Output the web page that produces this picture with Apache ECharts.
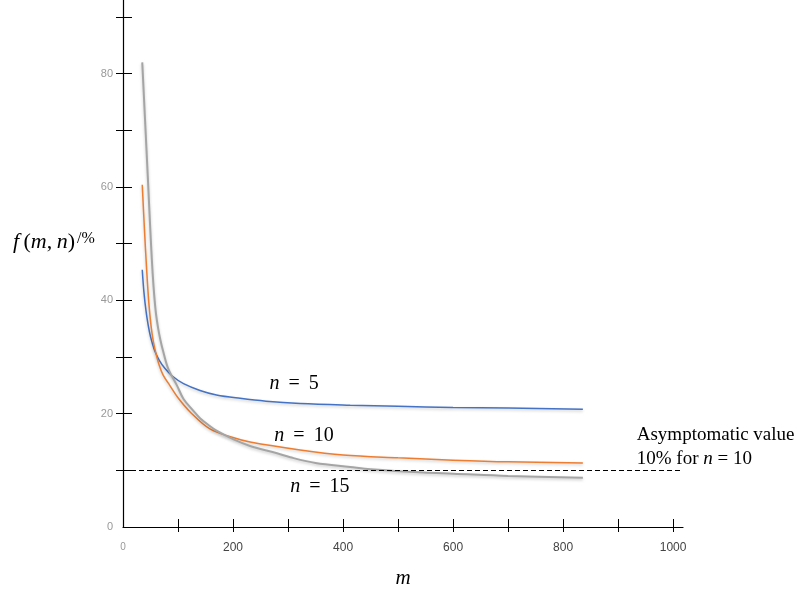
<!DOCTYPE html>
<html>
<head>
<meta charset="utf-8">
<script src="https://cdn.jsdelivr.net/npm/echarts@6/dist/echarts.min.js"></script>
<style>html,body{margin:0;padding:0;background:#fff}#c{width:800px;height:589px}</style>
</head>
<body>
<div id="c"></div>
<script>
// ---- data ----
const m5  = [35, 38, 42, 46, 50, 54, 58, 66, 76, 90, 110, 140, 170, 213, 260, 322, 413, 500, 600, 700, 836];
const f5  = [45.4, 41.5, 38.0, 35.5, 33.6, 32.2, 31.0, 29.4, 28.0, 26.6, 25.3, 24.1, 23.3, 22.7, 22.2, 21.8, 21.5, 21.3, 21.1, 21.0, 20.8];
const m10 = [35, 39, 43, 47, 51, 55, 60, 66, 73, 85, 100, 122, 158, 200, 231, 322, 400, 500, 600, 700, 836];
const f10 = [60.4, 52.5, 45.4, 39.5, 35.5, 32.8, 30.6, 28.5, 26.8, 25.0, 22.8, 20.3, 17.3, 15.8, 15.0, 13.6, 12.7, 12.2, 11.8, 11.5, 11.3];
const m15 = [35, 40, 45, 48, 51, 54, 57, 60, 64, 68, 73, 82, 98, 110, 128, 140, 158, 170, 200, 231, 280, 304, 350, 413, 450, 546, 600, 700, 836];
const f15 = [82.0, 72.0, 62.0, 55.8, 49.8, 44.6, 40.6, 37.6, 35.0, 33.0, 31.0, 28.0, 25.0, 22.6, 20.5, 19.2, 17.8, 17.0, 15.5, 14.3, 13.0, 12.3, 11.3, 10.6, 10.2, 9.6, 9.4, 9.0, 8.7];
const asymptote = 10;
const xTicks  = [100, 200, 300, 400, 500, 600, 700, 800, 900, 1000];
const xLabels = [0, 200, 400, 600, 800, 1000];
const yTicks  = [10, 20, 30, 40, 50, 60, 70, 80, 90];
const yLabels = [0, 20, 40, 60, 80];
const seriesNames = ['n = 5', 'n = 10', 'n = 15'];
const curveLabels = [[311, 25.2], [329, 16.1], [358, 7.1]];
const noteLines = ['Asymptomatic value', '10% for n = 10'];
const notePos = [[933, 16.2], [933, 12.0]];

const zip = (a, b) => a.map((v, i) => [v, b[i]]);
const serif = '"Liberation Serif", "Times New Roman", serif';
const richN = {
  i: { fontFamily: serif, fontStyle: 'italic', fontSize: 20, color: '#000' },
  r: { fontFamily: serif, fontSize: 20, color: '#000' }
};
const richNote = {
  i: { fontFamily: serif, fontStyle: 'italic', fontSize: 19, color: '#000' },
  r: { fontFamily: serif, fontSize: 19, color: '#000' }
};
function nLabel(s) {
  const parts = s.split('n');
  return parts.map((p, k) => (k > 0 ? '{i|n}' : '') + (p ? '{r|' + p.replace(/ /g, '\u00a0') + '}' : '')).join('');
}
function curveText(s) {
  // wider spacing around "=" as in the reference
  return nLabel(s).replace('\u00a0=\u00a0', '\u00a0\u2009=\u2009\u00a0');
}
const hidden = { symbol: 'circle', symbolSize: 1, itemStyle: { color: 'rgba(0,0,0,0)' } };
const shadow = { shadowBlur: 3, shadowColor: 'rgba(0,0,0,0.22)', shadowOffsetY: 1.5 };
function curve(name, m, f, color, width, idx) {
  return {
    type: 'line', name, data: zip(m, f), smooth: 0.35, symbol: 'none',
    lineStyle: Object.assign({ color, width }, shadow),
    markPoint: Object.assign({ silent: true,
      data: [{ coord: curveLabels[idx], label: { show: true, position: 'inside', formatter: curveText(name), rich: richN } }]
    }, hidden)
  };
}
const grid = { left: 123, right: 117, top: 0, bottom: 62, outerBoundsMode: 'none', containLabel: false };
const xBase = { type: 'value', min: 0, max: 1018, splitLine: { show: false } };
const yBase = { type: 'value', min: 0, max: 93, splitLine: { show: false } };
const chart = echarts.init(document.getElementById('c'));
chart.setOption({
  animation: false,
  backgroundColor: '#fff',
  grid,
  title: {
    text: '{i|f}{r|\u2009(}{i|m}{r|,\u2009}{i|n}{r|)}{s|/%}', left: 8, top: 226,
    textStyle: { fontWeight: 'normal', rich: {
      i: { fontFamily: serif, fontStyle: 'italic', fontWeight: 'normal', fontSize: 22, color: '#000' },
      r: { fontFamily: serif, fontWeight: 'normal', fontSize: 22, color: '#000' },
      s: { fontFamily: serif, fontWeight: 'normal', fontSize: 16, color: '#000', verticalAlign: 'top', padding: [0, 0, 6, 2] }
    } }
  },
  xAxis: [
    Object.assign({}, xBase, {
      name: 'm', nameLocation: 'middle', nameGap: 41,
      nameTextStyle: { fontFamily: serif, fontStyle: 'italic', fontSize: 21, color: '#000' },
      axisLine: { lineStyle: { color: '#000', width: 1.2 } },
      axisTick: { show: true, customValues: xTicks, length: 5, lineStyle: { color: '#000' } },
      axisLabel: {
        customValues: xLabels, margin: 15, fontSize: 12, color: '#444', fontFamily: 'Arial, "Liberation Sans", sans-serif',
        formatter: v => v === 0 ? '{z|0}' : String(v),
        rich: { z: { fontSize: 10, color: '#999', padding: [0, 0, 16, 0] } }
      }
    }),
    Object.assign({}, xBase, {
      position: 'bottom', axisLine: { show: false }, axisLabel: { show: false },
      axisTick: { show: true, inside: true, customValues: xTicks, length: 8, lineStyle: { color: '#000' } }
    })
  ],
  yAxis: [
    Object.assign({}, yBase, {
      axisLine: { show: true, lineStyle: { color: '#000', width: 1.2 } },
      axisTick: { show: true, customValues: yTicks, length: 7, lineStyle: { color: '#000' } },
      axisLabel: { customValues: yLabels, margin: 10, fontSize: 11, color: '#999', fontFamily: 'Arial, "Liberation Sans", sans-serif' }
    }),
    Object.assign({}, yBase, {
      position: 'left', axisLine: { show: false }, axisLabel: { show: false },
      axisTick: { show: true, inside: true, customValues: yTicks, length: 9, lineStyle: { color: '#000' } }
    })
  ],
  series: [
    curve(seriesNames[0], m5, f5, '#4472C4', 1.5, 0),
    curve(seriesNames[1], m10, f10, '#ED7D31', 1.5, 1),
    curve(seriesNames[2], m15, f15, '#A5A5A5', 2, 2),
    {
      type: 'line', data: [], symbol: 'none',
      markLine: {
        silent: true, symbol: 'none', label: { show: false },
        lineStyle: { color: '#000', type: [5, 3], width: 1 },
        data: [{ yAxis: asymptote }]
      },
      markPoint: Object.assign({ silent: true,
        data: noteLines.map((t, k) => ({
          coord: notePos[k],
          label: { show: true, position: 'right', distance: 0, formatter: nLabel(t), rich: richNote }
        }))
      }, hidden)
    }
  ]
});
</script>
</body>
</html>
